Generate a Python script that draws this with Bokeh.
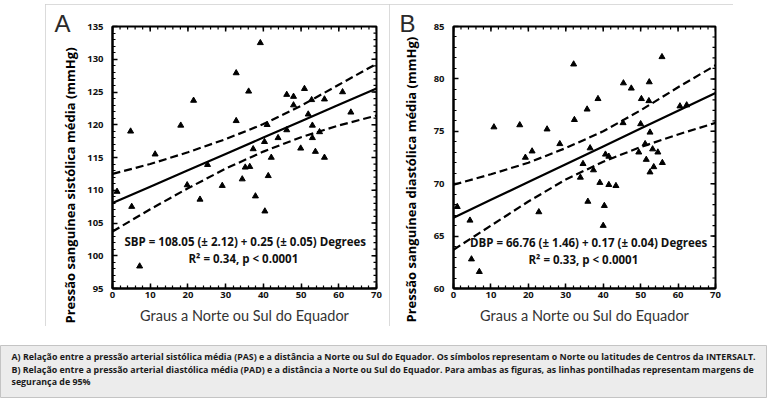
import math
from bokeh.plotting import figure
from bokeh.layouts import column, row
from bokeh.models import Range1d, LinearAxis, Spacer, SingleIntervalTicker, Title
from bokeh.core.properties import value
from bokeh.embed import file_html
from bokeh.resources import INLINE

# ---------------- data ----------------
x_ticks = [0, 10, 20, 30, 40, 50, 60, 70]
a_y_ticks = [95, 100, 105, 110, 115, 120, 125, 130, 135]
b_y_ticks = [60, 65, 70, 75, 80, 85]

a_deg = [1.2, 4.8, 5.1, 7.2, 11.3, 18.1, 19.8, 21.5, 23.2, 25.2, 29.1, 32.8, 32.8,
         34.4, 35.2, 36.4, 36.1, 37.3, 37.9, 39.2, 40.4, 40.3, 41.0, 41.3, 42.1,
         43.9, 46.2, 46.2, 48.0, 48.0, 49.9, 50.9, 51.9, 52.8, 53.0, 53.0, 53.8,
         54.9, 56.2, 56.2, 61.0, 63.2]
a_sbp = [109.8, 119.0, 107.5, 98.4, 115.5, 119.9, 110.8, 123.7, 108.6, 113.9, 110.7, 127.9, 120.6,
         111.7, 113.5, 113.6, 125.1, 116.3, 109.1, 132.5, 106.8, 117.4, 120.0, 112.2, 115.0,
         118.0, 124.6, 119.2, 124.3, 123.0, 116.4, 125.5, 121.6, 123.8, 119.9, 118.0, 115.9,
         118.9, 123.9, 115.0, 125.0, 121.9]

b_deg = [1.0, 4.4, 4.8, 6.9, 10.8, 17.7, 19.2, 21.0, 22.8, 25.0, 28.4, 32.1, 32.3,
         33.9, 34.6, 35.7, 35.9, 36.5, 37.4, 38.6, 39.1, 40.0, 40.3, 40.6, 41.5,
         41.5, 43.4, 45.4, 45.3, 47.5, 49.5, 50.2, 50.0, 51.2, 51.5, 52.3, 52.2,
         52.5, 52.5, 53.2, 53.5, 54.6, 55.7, 55.8, 60.5, 62.3]
b_dbp = [67.8, 66.5, 62.8, 61.6, 75.4, 75.6, 72.5, 73.1, 67.3, 75.2, 73.8, 81.4, 76.1,
         70.6, 71.9, 77.1, 68.3, 73.4, 71.3, 78.1, 70.1, 66.0, 67.9, 72.8, 72.6,
         69.9, 69.8, 79.6, 75.8, 79.1, 73.0, 78.1, 75.7, 73.8, 72.3, 79.7, 77.9,
         74.9, 71.1, 73.3, 71.6, 73.0, 82.1, 72.0, 77.4, 77.5]

line_deg = [0, 10, 20, 30, 40, 50, 60, 70]
a_fit = [108.05, 110.55, 113.05, 115.55, 118.05, 120.55, 123.05, 125.55]
a_upper = [112.5, 114.0, 115.8, 117.8, 120.1, 122.9, 126.1, 129.3]
a_lower = [103.7, 107.1, 110.3, 113.3, 115.9, 118.1, 119.9, 121.4]
b_fit = [66.76, 68.46, 70.16, 71.86, 73.56, 75.26, 76.96, 78.66]
b_upper = [69.9, 70.9, 72.0, 73.4, 75.0, 77.0, 79.2, 81.3]
b_lower = [63.7, 66.0, 68.3, 70.4, 72.1, 73.5, 74.7, 75.8]

a_eq = ["SBP = 108.05 (\u00b1 2.12) + 0.25 (\u00b1 0.05) Degrees", "R\u00b2 = 0.34, p < 0.0001"]
b_eq = ["DBP = 66.76 (\u00b1 1.46) + 0.17 (\u00b1 0.04) Degrees", "R\u00b2 = 0.33, p < 0.0001"]

x_title = "Graus a Norte ou Sul do Equador"
a_ytitle = "Press\u00e3o sangu\u00ednea sist\u00f3lica m\u00e9dia (mmHg)"
b_ytitle = "Press\u00e3o sangu\u00ednea diast\u00f3lica m\u00e9dia (mmHg)"

caption = [
    "A) Rela\u00e7\u00e3o entre a press\u00e3o arterial sist\u00f3lica m\u00e9dia (PAS) e a dist\u00e2ncia a Norte ou Sul do Equador. Os s\u00edmbolos representam o Norte ou latitudes de Centros da INTERSALT.",
    "B) Rela\u00e7\u00e3o entre a press\u00e3o arterial diast\u00f3lica m\u00e9dia (PAD) e a dist\u00e2ncia a Norte ou Sul do Equador. Para ambas as figuras, as linhas pontilhadas representam margens de",
    "seguran\u00e7a de 95%",
]

AX_FONT = "Open Sans"
LBL_FONT = "Lato"
PANEL_H = 322
PANEL_STYLE = {"outline": "1px solid #cfcfcf", "outline-offset": "-1px"}


def style_axis(ax, standoff):
    ax.axis_line_width = 2
    ax.axis_line_color = "black"
    ax.major_tick_in = 5
    ax.major_tick_out = 0
    ax.minor_tick_in = 3
    ax.minor_tick_out = 0
    ax.major_tick_line_width = 1.5
    ax.minor_tick_line_width = 1.2
    ax.major_tick_line_color = "black"
    ax.minor_tick_line_color = "black"
    ax.major_label_text_font = AX_FONT
    ax.major_label_text_font_style = "bold"
    ax.major_label_text_font_size = "9.5px"
    ax.major_label_text_color = "#111111"
    ax.major_label_standoff = standoff


def make_panel(width, left, right, yt, deg, bp, fit, up, lo, eqs, eq_pos,
               ytitle, ytitle_standoff, ytitle_offset, letter, letter_offset):
    p = figure(width=width, height=PANEL_H, toolbar_location=None, output_backend="svg",
               title=None,
               x_range=Range1d(x_ticks[0], x_ticks[-1]), y_range=Range1d(yt[0], yt[-1]),
               x_axis_location=None, y_axis_location=None,
               min_border_left=left, min_border_right=right, min_border_top=22,
               min_border_bottom=38, outline_line_color="black", outline_line_width=2,
               styles=PANEL_STYLE)
    p.grid.visible = False
    xstep = x_ticks[1] - x_ticks[0]
    ystep = yt[1] - yt[0]
    xt = SingleIntervalTicker(interval=xstep, num_minor_ticks=5)
    ytk = SingleIntervalTicker(interval=ystep, num_minor_ticks=5)
    bx = LinearAxis(ticker=xt, axis_label=x_title)
    style_axis(bx, 3)
    bx.axis_label_text_font = LBL_FONT
    bx.axis_label_text_font_style = "normal"
    bx.axis_label_text_font_size = "14.5px"
    bx.axis_label_text_color = "#333333"
    bx.axis_label_standoff = 6
    p.add_layout(bx, "below")
    ly = LinearAxis(ticker=ytk)
    style_axis(ly, 9)
    p.add_layout(ly, "left")

    # vertical axis title, drawn as a side title so it can sit below the frame centre
    p.add_layout(Title(text=ytitle, align="left", offset=ytitle_offset, standoff=ytitle_standoff,
                       text_font="Open Sans", text_font_style="bold", text_font_size="13px",
                       text_color="black"), "left")
    # panel letter
    p.add_layout(Title(text=letter, align="left", offset=letter_offset, standoff=-20,
                       vertical_align="bottom", text_font="Liberation Sans",
                       text_font_style="normal", text_font_size="24px",
                       text_color="#2a2a2a"), "above")

    # inward tick marks on the top and right frame edges
    xminor = [x_ticks[0] + i * xstep / 5 for i in range(5 * (len(x_ticks) - 1) + 1)]
    yminor = [yt[0] + i * ystep / 5 for i in range(5 * (len(yt) - 1) + 1)]
    p.scatter(xminor, [yt[-1]] * len(xminor), marker="dash", angle=math.pi / 2, size=6,
              line_color="black", line_width=1.2)
    p.scatter(x_ticks, [yt[-1]] * len(x_ticks), marker="dash", angle=math.pi / 2, size=10,
              line_color="black", line_width=1.5)
    p.scatter([x_ticks[-1]] * len(yminor), yminor, marker="dash", size=6,
              line_color="black", line_width=1.2)
    p.scatter([x_ticks[-1]] * len(yt), yt, marker="dash", size=10,
              line_color="black", line_width=1.5)

    p.line(line_deg, fit, line_color="black", line_width=2.2)
    p.line(line_deg, up, line_color="black", line_width=2.2, line_dash="8 4")
    p.line(line_deg, lo, line_color="black", line_width=2.2, line_dash="8 4")
    p.scatter(deg, bp, marker="triangle", size=6, fill_color="black", line_color="black")

    p.text(x=[eq_pos[0][0], eq_pos[1][0]], y=[eq_pos[0][1], eq_pos[1][1]], text=eqs,
           text_font=value(AX_FONT), text_font_style="bold", text_font_size="11.5px",
           text_align="center", text_baseline="middle", text_color="#111111")
    return p


pA = make_panel(344, 67, 13, a_y_ticks, a_deg, a_sbp, a_fit, a_upper, a_lower, a_eq,
                [(35.2, 102.1), (34.7, 99.55)], a_ytitle, 12, -35, "A", -58)
pB = make_panel(344, 64, 18, b_y_ticks, b_deg, b_dbp, b_fit, b_upper, b_lower, b_eq,
                [(36.1, 64.4), (34.7, 62.8)], b_ytitle, 21, -34, "B", -54)

cap_w, cap_h = 767, 53
cap = figure(width=cap_w, height=cap_h, toolbar_location=None, output_backend="svg",
             title=None, x_range=Range1d(0, cap_w), y_range=Range1d(cap_h, 0),
             x_axis_location=None, y_axis_location=None, min_border=0,
             background_fill_color="#ececec", border_fill_color="#ececec",
             outline_line_color="#c4c4c4")
cap.grid.visible = False
cap.text(x=[11, 11, 11], y=[11, 24, 36], text=caption, text_font=value("Open Sans"),
         text_font_style="bold", text_font_size="8.85px", text_align="left",
         text_baseline="middle", text_color="#1a1a1a")

panels = row(Spacer(width=45, height=PANEL_H), pA, pB)
layout = column(Spacer(height=4, width=10), panels, Spacer(height=19, width=10), cap)

open("out.html", "w").write(file_html(layout, INLINE))
